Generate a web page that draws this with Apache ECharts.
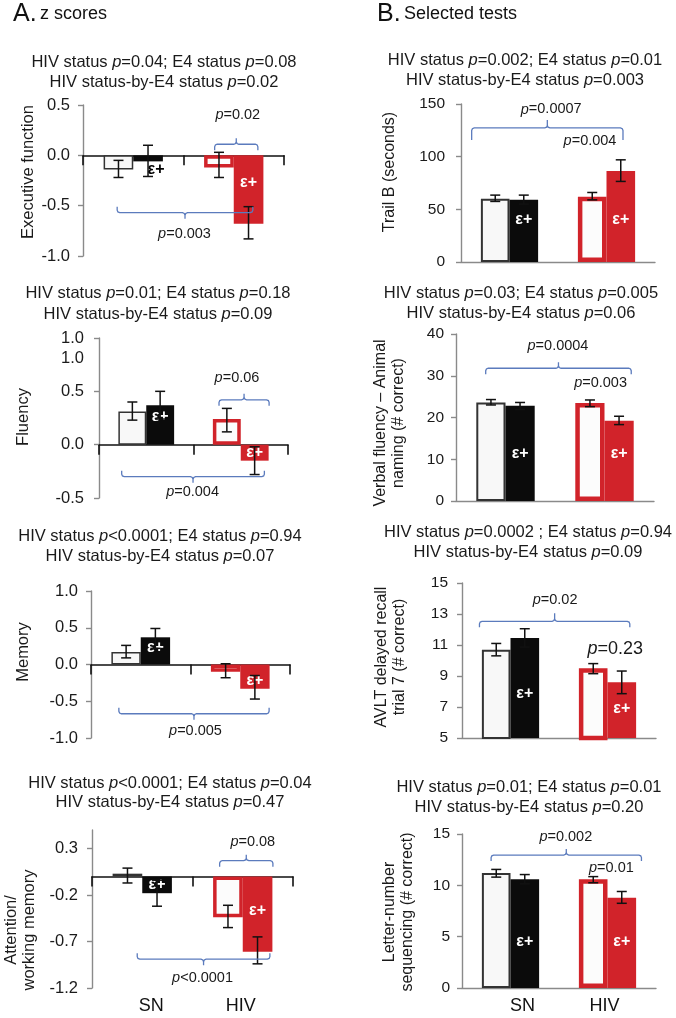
<!DOCTYPE html>
<html><head><meta charset="utf-8">
<script src="https://cdn.jsdelivr.net/npm/echarts@6/dist/echarts.min.js"></script>
<style>html,body{margin:0;padding:0;background:#fff}#c{width:676px;height:1018px}</style>
</head><body><div id="c"></div><script>
// ---------------- DATA ----------------
const categories = ['SN', 'HIV'];

// A. z scores  — [SN, HIV] means, error bar [low, high]
const execNeg = [-0.14, -0.12];
const execPos = [-0.06, -0.68];
const execNegErr = [[-0.22, -0.05], [-0.22, 0.03]];
const execPosErr = [[-0.21, 0.10], [-0.83, -0.51]];
const execTicks = [-1.0, -0.5, 0.0, 0.5];

const fluencyNeg = [0.31, 0.24];
const fluencyPos = [0.37, -0.15];
const fluencyNegErr = [[0.23, 0.40], [0.12, 0.34]];
const fluencyPosErr = [[0.24, 0.50], [-0.28, -0.02]];
const fluencyTicks = [-0.5, 0.0, 0.5, 1.0];

const memoryNeg = [0.17, -0.10];
const memoryPos = [0.37, -0.33];
const memoryNegErr = [[0.09, 0.26], [-0.18, 0.01]];
const memoryPosErr = [[0.22, 0.49], [-0.47, -0.15]];
const memoryTicks = [-1.0, -0.5, 0.0, 0.5, 1.0];

const attnNeg = [0.03, -0.44];
const attnPos = [-0.18, -0.81];
const attnNegErr = [[-0.07, 0.09], [-0.55, -0.31]];
const attnPosErr = [[-0.32, -0.04], [-0.94, -0.65]];
const attnTicks = [-1.2, -0.7, -0.2, 0.3];

// B. Selected tests
const trailNeg = [60, 62];
const trailPos = [59, 86.5];
const trailNegErr = [[57.5, 63.5], [59, 66]];
const trailPosErr = [[55, 63.5], [76.5, 97]];
const trailTicks = [0, 50, 100, 150];

const verbalNeg = [23.6, 23.5];
const verbalPos = [22.8, 19.2];
const verbalNegErr = [[23.0, 24.3], [22.6, 24.2]];
const verbalPosErr = [[21.9, 23.6], [18.3, 20.3]];
const verbalTicks = [0, 10, 20, 30, 40];

const avltNeg = [10.7, 9.5];
const avltPos = [11.45, 8.6];
const avltNegErr = [[10.3, 11.1], [9.15, 9.8]];
const avltPosErr = [[10.87, 12.05], [7.86, 9.32]];
const avltTicks = [5, 7, 9, 11, 13, 15];

const lnsNeg = [11.2, 10.6];
const lnsPos = [10.6, 8.8];
const lnsNegErr = [[10.8, 11.55], [10.25, 10.85]];
const lnsPosErr = [[10.15, 11.05], [8.25, 9.4]];
const lnsTicks = [0, 5, 10, 15];

// Titles (p values)
const execTitle = ['HIV status {i|p}=0.04; E4 status {i|p}=0.08', 'HIV status-by-E4 status {i|p}=0.02'];
const fluencyTitle = ['HIV status {i|p}=0.01; E4 status {i|p}=0.18', 'HIV status-by-E4 status {i|p}=0.09'];
const memoryTitle = ['HIV status {i|p}<0.0001; E4 status {i|p}=0.94', 'HIV status-by-E4 status {i|p}=0.07'];
const attnTitle = ['HIV status {i|p}<0.0001; E4 status {i|p}=0.04', 'HIV status-by-E4 status {i|p}=0.47'];
const trailTitle = ['HIV status {i|p}=0.002; E4 status {i|p}=0.01', 'HIV status-by-E4 status {i|p}=0.003'];
const verbalTitle = ['HIV status {i|p}=0.03; E4 status {i|p}=0.005', 'HIV status-by-E4 status {i|p}=0.06'];
const avltTitle = ['HIV status {i|p}=0.0002 ; E4 status {i|p}=0.94', 'HIV status-by-E4 status {i|p}=0.09'];
const lnsTitle = ['HIV status {i|p}=0.01; E4 status {i|p}=0.01', 'HIV status-by-E4 status {i|p}=0.20'];

const yNames = [['Executive function'], ['Fluency'], ['Memory'], ['Attention/', 'working memory'],
  ['Trail B (seconds)'], ['Verbal fluency \u2013 Animal', 'naming (# correct)'],
  ['AVLT delayed recall', 'trial 7 (# correct)'], ['Letter-number', 'sequencing (# correct)']];

// Comparison annotations: bracket span (category units), level (data units), p-value text
const execBrackets = [{x1: 0.81, x2: 1.24, y: 0.11, dir: 1}, {x1: -0.16, x2: 1.19, y: -0.57, dir: -1}];
const execNotes = [{t: '=0.02', x: 1.04, y: 0.40}, {t: '=0.003', x: 0.51, y: -0.78}];
const fluencyBrackets = [{x1: 0.77, x2: 1.30, y: 0.42, dir: 1}, {x1: -0.26, x2: 1.25, y: -0.30, dir: -1}];
const fluencyNotes = [{t: '=0.06', x: 0.96, y: 0.625}, {t: '=0.004', x: 0.49, y: -0.44}];
const memoryBrackets = [{x1: -0.22, x2: 1.29, y: -0.67, dir: -1}];
const memoryNotes = [{t: '=0.005', x: 0.55, y: -0.91}];
const attnBrackets = [{x1: 0.77, x2: 1.30, y: 0.17, dir: 1}, {x1: -0.05, x2: 1.27, y: -0.89, dir: -1}];
const attnNotes = [{t: '=0.08', x: 1.10, y: 0.367}, {t: '<0.0001', x: 0.60, y: -1.096}];
const trailBrackets = [{x1: -0.39, x2: 1.17, y: 127.3, dir: 1}];
const trailNotes = [{t: '=0.0007', x: 0.43, y: 144.8}, {t: '=0.004', x: 0.83, y: 114.5}];
const verbalBrackets = [{x1: -0.2, x2: 1.27, y: 31.8, dir: 1}];
const verbalNotes = [{t: '=0.0004', x: 0.53, y: 37.1}, {t: '=0.003', x: 0.96, y: 28.3}];
const avltBrackets = [{x1: -0.32, x2: 1.23, y: 12.53, dir: 1}];
const avltNotes = [{t: '=0.02', x: 0.46, y: 13.88}, {t: '=0.23', x: 1.08, y: 10.77, big: true}];
const lnsBrackets = [{x1: -0.2, x2: 1.35, y: 12.95, dir: 1}];
const lnsNotes = [{t: '=0.002', x: 0.57, y: 14.74}, {t: '=0.01', x: 1.04, y: 11.66}];

// ---------------- LAYOUT / STYLE ----------------
const FONT = '"Liberation Sans", Arial, Helvetica, sans-serif';
const RED = '#d1232a';
const BLUE = '#5b7bbd';

const panels = [
  {neg: execNeg, pos: execPos, negErr: execNegErr, posErr: execPosErr, ticks: execTicks, max: 0.5, title: execTitle, br: execBrackets, notes: execNotes},
  {neg: fluencyNeg, pos: fluencyPos, negErr: fluencyNegErr, posErr: fluencyPosErr, ticks: fluencyTicks, max: 1.0, title: fluencyTitle, br: fluencyBrackets, notes: fluencyNotes},
  {neg: memoryNeg, pos: memoryPos, negErr: memoryNegErr, posErr: memoryPosErr, ticks: memoryTicks, max: 1.0, title: memoryTitle, br: memoryBrackets, notes: memoryNotes},
  {neg: attnNeg, pos: attnPos, negErr: attnNegErr, posErr: attnPosErr, ticks: attnTicks, max: 0.5, title: attnTitle, br: attnBrackets, notes: attnNotes},
  {neg: trailNeg, pos: trailPos, negErr: trailNegErr, posErr: trailPosErr, ticks: trailTicks, max: 150, title: trailTitle, br: trailBrackets, notes: trailNotes},
  {neg: verbalNeg, pos: verbalPos, negErr: verbalNegErr, posErr: verbalPosErr, ticks: verbalTicks, max: 40, title: verbalTitle, br: verbalBrackets, notes: verbalNotes},
  {neg: avltNeg, pos: avltPos, negErr: avltNegErr, posErr: avltPosErr, ticks: avltTicks, max: 15, title: avltTitle, br: avltBrackets, notes: avltNotes},
  {neg: lnsNeg, pos: lnsPos, negErr: lnsNegErr, posErr: lnsPosErr, ticks: lnsTicks, max: 15, title: lnsTitle, br: lnsBrackets, notes: lnsNotes}
];

const layout = [
  {grid: {left: 83, top: 105, width: 201, height: 151}, tx: 164, ty: [62, 82], yl: [28, 172], margin: 13, zscore: true,
   eps: [{position: 'bottom', distance: 0, color: '#000', offset: [8, 0]}, {position: 'insideTop', distance: 19}]},
  {grid: {left: 99, top: 338, width: 189, height: 160}, tx: 158, ty: [293, 314], yl: [23, 417], margin: 15, zscore: true,
   eps: [{position: 'insideTop', distance: 3}, {position: 'inside'}]},
  {grid: {left: 91, top: 591, width: 199, height: 147}, tx: 160, ty: [536, 556], yl: [23, 652], margin: 13, zscore: true,
   eps: [{position: 'insideTop', distance: 2}, {position: 'inside', offset: [0, 4]}]},
  {grid: {left: 92, top: 830, width: 201, height: 158}, tx: 170, ty: [783, 802], yl: [20, 930], margin: 14, zscore: true, catLabels: true,
   catPad: [[0, 0, 0, 18], [0, 4, 0, 0]],
   eps: [{position: 'inside'}, {position: 'insideTop', distance: 26}]},
  {grid: {left: 461, top: 104, width: 194, height: 158}, tx: 525, ty: [60, 80], yl: [390, 172], margin: 16,
   eps: [{position: 'insideBottom', distance: 34}, {position: 'insideBottom', distance: 34}]},
  {grid: {left: 456, top: 334, width: 198, height: 167}, tx: 521, ty: [293, 313], yl: [390, 423], margin: 12,
   eps: [{position: 'insideBottom', distance: 39}, {position: 'insideBottom', distance: 39}]},
  {grid: {left: 462, top: 583, width: 194, height: 155}, tx: 528, ty: [532, 552], yl: [391, 657], margin: 14,
   eps: [{position: 'insideBottom', distance: 36}, {position: 'insideBottom', distance: 21}]},
  {grid: {left: 462, top: 834, width: 194, height: 154}, tx: 529, ty: [787, 807], yl: [399, 912], margin: 12, catLabels: true,
   catPad: [[0, 0, 0, 24], [0, 6, 0, 0]],
   eps: [{position: 'insideBottom', distance: 38}, {position: 'insideBottom', distance: 38}]}
];

const BAR_OFF = 0.147;

function pText(t, size) {
  return {
    text: t,
    rich: {
      i: {fontStyle: 'italic', fontSize: size, fontFamily: FONT, fill: '#1a1a1a'},
      n: {fontSize: size, fontFamily: FONT, fill: '#1a1a1a'}
    }
  };
}
function wrapRich(s) {
  const parts = s.split(/(\{i\|p\})/);
  return parts.filter(x => x.length).map(x => x === '{i|p}' ? x : '{n|' + x + '}').join('');
}
function catData(L) {
  if (!L.catPad) return categories;
  return categories.map((c, k) => ({value: c, textStyle: {padding: L.catPad[k]}}));
}

const grids = [], xAxes = [], yAxes = [], series = [], graphics = [];

panels.forEach((p, i) => {
  const L = layout[i];
  const A = !!L.zscore;
  grids.push(Object.assign({containLabel: false}, L.grid));
  xAxes.push({
    type: 'category', gridIndex: i, data: (A ? categories : catData(L)), position: 'bottom',
    axisLine: {show: true, onZero: A, lineStyle: {color: A ? '#111' : '#8a8a8a', width: A ? 1.6 : 1.4}},
    axisTick: {show: A, length: 10, inside: false, lineStyle: {color: '#111', width: 1.6}},
    axisLabel: {show: !!L.catLabels && !A, fontSize: 18, fontFamily: FONT, color: '#111', margin: 9},
    splitLine: {show: false}
  });
  const xIdx = xAxes.length - 1;
  if (A && L.catLabels) {
    xAxes.push({
      type: 'category', gridIndex: i, data: catData(L), position: 'bottom',
      axisLine: {show: false, onZero: false}, axisTick: {show: false},
      axisLabel: {show: true, fontSize: 18, fontFamily: FONT, color: '#111', margin: 9}
    });
  }
  const t = p.ticks;
  yAxes.push({
    type: 'value', gridIndex: i, min: t[0], max: p.max,
    axisLine: {show: true, lineStyle: {color: '#8a8a8a', width: 1.4}},
    axisTick: {show: true, length: 5, inside: false, customValues: t, lineStyle: {color: '#8a8a8a', width: 1.4}},
    axisLabel: {show: true, customValues: t, margin: L.margin, fontSize: A ? 16.5 : 15.5, fontFamily: FONT, color: '#1a1a1a',
      formatter: v => A ? Number(v).toFixed(1) : String(Math.round(v))},
    splitLine: {show: false}
  });

  const bw = A ? 1.5 : 2;
  const rw = A ? 3.5 : 4.5;
  const negData = p.neg.map((v, k) => ({
    value: v,
    itemStyle: k === 0 ? {color: '#f8f8f8', borderColor: '#333', borderWidth: bw}
                       : {color: '#fcfcfc', borderColor: RED, borderWidth: rw}
  }));
  const posData = p.pos.map((v, k) => {
    const e = L.eps[k];
    return {
      value: v,
      itemStyle: k === 0 ? {color: '#0b0b0b'} : {color: RED},
      label: Object.assign({show: true, formatter: '\u03b5+', color: '#fff', fontSize: 16, fontWeight: 'bold', fontFamily: FONT}, e)
    };
  });
  series.push({type: 'bar', xAxisIndex: xIdx, yAxisIndex: i, data: negData, barGap: '0%', barCategoryGap: '41%', z: 2, silent: true});
  series.push({type: 'bar', xAxisIndex: xIdx, yAxisIndex: i, data: posData, barGap: '0%', barCategoryGap: '41%', z: 2, silent: true});

  // error bars
  const errData = [];
  p.negErr.forEach((e, k) => errData.push([k, e[0], e[1], -1]));
  p.posErr.forEach((e, k) => errData.push([k, e[0], e[1], 1]));
  series.push({
    type: 'custom', xAxisIndex: xIdx, yAxisIndex: i, z: 5, silent: true,
    encode: {x: 0, y: [1, 2]},
    data: errData,
    renderItem: (params, api) => {
      const c = api.value(0);
      const lo = api.coord([c, api.value(1)]);
      const hi = api.coord([c, api.value(2)]);
      const band = api.coord([1, 0])[0] - api.coord([0, 0])[0];
      const x = lo[0] + api.value(3) * BAR_OFF * band;
      const cap = 5;
      const st = {stroke: '#111', lineWidth: 1.5, fill: null};
      return {type: 'group', children: [
        {type: 'line', shape: {x1: x, y1: lo[1], x2: x, y2: hi[1]}, style: st},
        {type: 'line', shape: {x1: x - cap, y1: lo[1], x2: x + cap, y2: lo[1]}, style: st},
        {type: 'line', shape: {x1: x - cap, y1: hi[1], x2: x + cap, y2: hi[1]}, style: st}
      ]};
    }
  });

  // brackets
  const brData = p.br.map(b => [0, b.x1, b.x2, b.y, b.dir]);
  series.push({
    type: 'custom', xAxisIndex: xIdx, yAxisIndex: i, z: 6, silent: true,
    encode: {x: 0, y: 3},
    data: brData,
    renderItem: (params, api) => {
      const c0 = api.coord([0, api.value(3)]);
      const band = api.coord([1, 0])[0] - api.coord([0, 0])[0];
      const x1 = c0[0] + api.value(1) * band, x2 = c0[0] + api.value(2) * band, y = c0[1];
      const d = api.value(4);
      const e = (i === 4) ? 12 : 6, m = (i === 4 || i === 6) ? 8 : 6;
      const xm = (x1 + x2) / 2, r = 2.5;
      const pts = [
        [x1, y + d * e], [x1, y + d * r], [x1 + r * 0.3, y + d * r * 0.3], [x1 + r, y],
        [xm - r, y], [xm - r * 0.3, y - d * r * 0.3], [xm, y - d * r], [xm, y - d * m], [xm, y - d * r],
        [xm + r * 0.3, y - d * r * 0.3], [xm + r, y],
        [x2 - r, y], [x2 - r * 0.3, y + d * r * 0.3], [x2, y + d * r], [x2, y + d * e]
      ];
      return {type: 'polyline', shape: {points: pts}, style: {stroke: BLUE, lineWidth: 1.3, fill: null}};
    }
  });

  // p-value notes
  const noteData = p.notes.map(n => [0, n.x, n.y]);
  series.push({
    type: 'custom', xAxisIndex: xIdx, yAxisIndex: i, z: 7, silent: true,
    encode: {x: 0, y: 2},
    data: noteData,
    renderItem: (params, api) => {
      const n = p.notes[params.dataIndex];
      const c0 = api.coord([0, api.value(2)]);
      const band = api.coord([1, 0])[0] - api.coord([0, 0])[0];
      const size = n.big ? 18 : 14.5;
      const pt = pText('{i|p}{n|' + n.t + '}', size);
      return {type: 'text', x: c0[0] + api.value(1) * band, y: c0[1],
        style: Object.assign({align: 'center', verticalAlign: 'middle', fontFamily: FONT, fontSize: size}, pt)};
    }
  });

  // titles
  p.title.forEach((line, k) => {
    graphics.push({type: 'text', x: L.tx, y: L.ty[k], silent: true,
      style: Object.assign({align: 'center', verticalAlign: 'middle', fontFamily: FONT, fontSize: 16.5}, pText(wrapRich(line), 16.5))});
  });
  // y axis name
  graphics.push({type: 'text', x: L.yl[0], y: L.yl[1], rotation: Math.PI / 2, silent: true,
    style: {text: yNames[i].join('\n'), align: 'center', verticalAlign: 'middle', fontFamily: FONT,
      fontSize: i < 4 ? 16.5 : 16, lineHeight: 18, fill: '#1a1a1a'}});
});

// Panel headers
graphics.push({type: 'text', x: 13, y: 14, silent: true, style: {
  text: '{a|A.} {b|z scores}', align: 'left', verticalAlign: 'middle',
  rich: {a: {fontSize: 25, fontFamily: FONT, fill: '#111'}, b: {fontSize: 18, fontFamily: FONT, fill: '#111'}}}});
graphics.push({type: 'text', x: 377, y: 14, silent: true, style: {
  text: '{a|B.} {b|Selected tests}', align: 'left', verticalAlign: 'middle',
  rich: {a: {fontSize: 25, fontFamily: FONT, fill: '#111'}, b: {fontSize: 18, fontFamily: FONT, fill: '#111'}}}});
// stray duplicate tick label in fluency panel
graphics.push({type: 'text', x: 84, y: 358, silent: true, style: {
  text: '1.0', align: 'right', verticalAlign: 'middle', fontFamily: FONT, fontSize: 16.5, fill: '#1a1a1a'}});

const chart = echarts.init(document.getElementById('c'), null, {renderer: 'canvas'});
chart.setOption({
  animation: false,
  backgroundColor: '#fff',
  grid: grids, xAxis: xAxes, yAxis: yAxes, series: series, graphic: graphics
});
</script></body></html>
